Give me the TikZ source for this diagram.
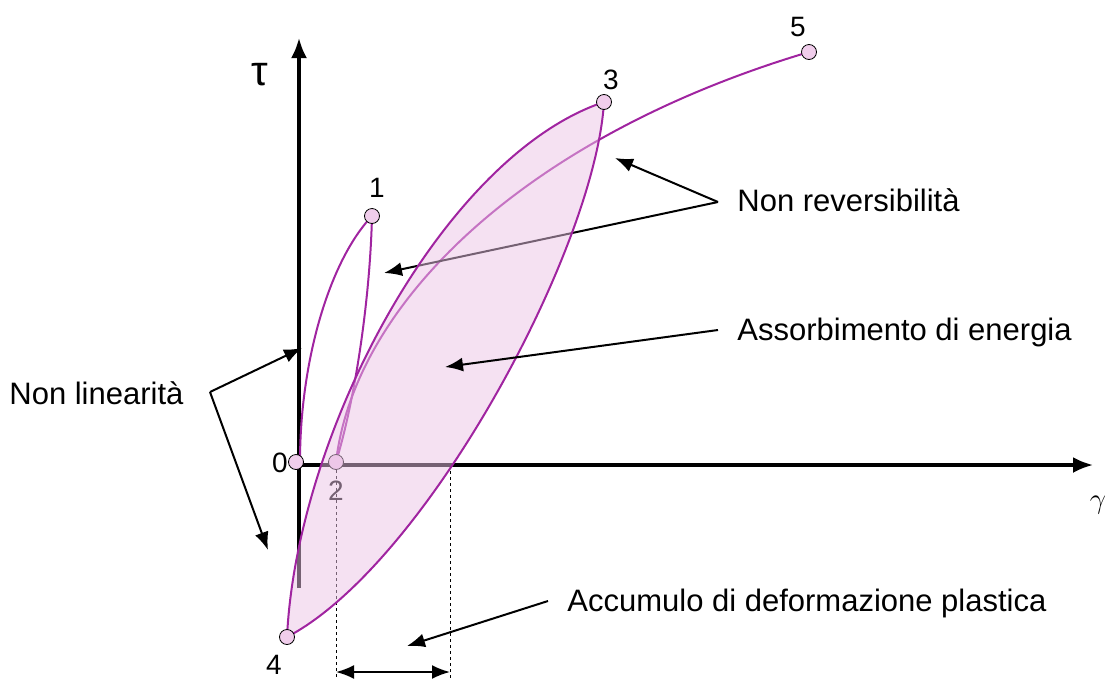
\documentclass[tikz,border=0pt]{standalone}
\usepackage{fontspec}
\setmainfont{Liberation Sans}
\usetikzlibrary{arrows.meta}

\definecolor{curvepurple}{RGB}{160,36,160}
\definecolor{loopfill}{RGB}{235,195,230}
\definecolor{dotpink}{RGB}{240,205,235}

\tikzset{
    curve/.style={line width=1pt, curvepurple},
    dot/.style={circle, draw=black, line width=0.4pt, fill=dotpink, inner sep=0pt, minimum size=7.5pt},
    ptlabel/.style={font=\fontsize{14}{16}\selectfont, inner sep=0pt},
    callout/.style={font=\fontsize{15.5}{18}\selectfont, anchor=west, inner sep=0pt},
    pointer/.style={line width=1pt, -{Latex[length=9pt,width=7pt]}},
    axis/.style={line width=1.6pt, -{Latex[length=10pt,width=8pt]}},
    guide/.style={line width=0.4pt, dash pattern=on 1.5pt off 1.5pt},
}

\begin{document}
\begin{tikzpicture}[x=0.5pt,y=-0.5pt]
        \useasboundingbox (0,0) rectangle (1109,681);

        % Points of the cycle
        \coordinate (p0) at (296,462);
        \coordinate (p1) at (372,216);
        \coordinate (p2) at (336,462);
        \coordinate (p3) at (604,102);
        \coordinate (p4) at (287,637);
        \coordinate (p5) at (809,52);

        % Axes
        \draw[axis] (299,588) -- (299,38);
        \draw[axis] (299,465) -- (1093,465);
        \node[font=\fontsize{21}{24}\selectfont] (tau) at (260,75) {τ};
        \node[font=\fontsize{15}{18}\selectfont] (gam) at (1098,505) {$\gamma$};

        % Unloading 1-2 and reloading 2-5
        \draw[curve] (p1) .. controls (370,300) and (355,400) .. (p2);
        \draw[curve] (p2) .. controls (355,300) and (530,135) .. (p5);
        \node[dot] (d2) at (p2) {};
        \node[ptlabel] (l2) at (336,491) {2};

        % Text labels
        \node[callout] (nonrev) at (737,200) {Non reversibilità};
        \node[callout] (assorb) at (737,332) {Assorbimento di energia};
        \node[callout] (nonlin) at (9,393) {Non linearità};
        \node[callout] (accum) at (567,603) {Accumulo di deformazione plastica};
        \coordinate (nr) at (718,202);
        \coordinate (nl) at (210,392);
        \draw[pointer] (nr) -- (384,273);

        % Plastic strain
        \draw[guide] (336,470) -- (336,678);
        \draw[guide] (450,465) -- (450,678);
        \draw[line width=1pt, {Latex[length=9pt,width=7pt]}-{Latex[length=9pt,width=7pt]}] (336,672) -- (450,672);

        % Hysteresis loop
        \path[draw=curvepurple, line width=1pt, fill=loopfill, fill opacity=0.5]
            (p4) .. controls (297,430) and (445,155) .. (p3)
                 .. controls (595,250) and (425,565) .. (p4) -- cycle;

        % First loading 0-1
        \draw[curve] (300,462) .. controls (300,360) and (330,260) .. (p1);

        \node[dot] (d0) at (p0) {};
        \node[dot] (d1) at (p1) {};
        \node[dot] (d3) at (p3) {};
        \node[dot] (d4) at (p4) {};
        \node[dot] (d5) at (p5) {};
        \node[ptlabel] (l0) at (280,463) {0};
        \node[ptlabel] (l1) at (377,188) {1};
        \node[ptlabel] (l3) at (611,80) {3};
        \node[ptlabel] (l4) at (274,665) {4};
        \node[ptlabel] (l5) at (798,27) {5};

        % Annotations
        \draw[pointer] (nr) -- (615,158);
        \draw[pointer] (718,330) -- (445,367);
        \draw[pointer] (nl) -- (302,348);
        \draw[pointer] (nl) -- (268,550);
        \draw[pointer] (548,601) -- (407,646);
\end{tikzpicture}
\end{document}
